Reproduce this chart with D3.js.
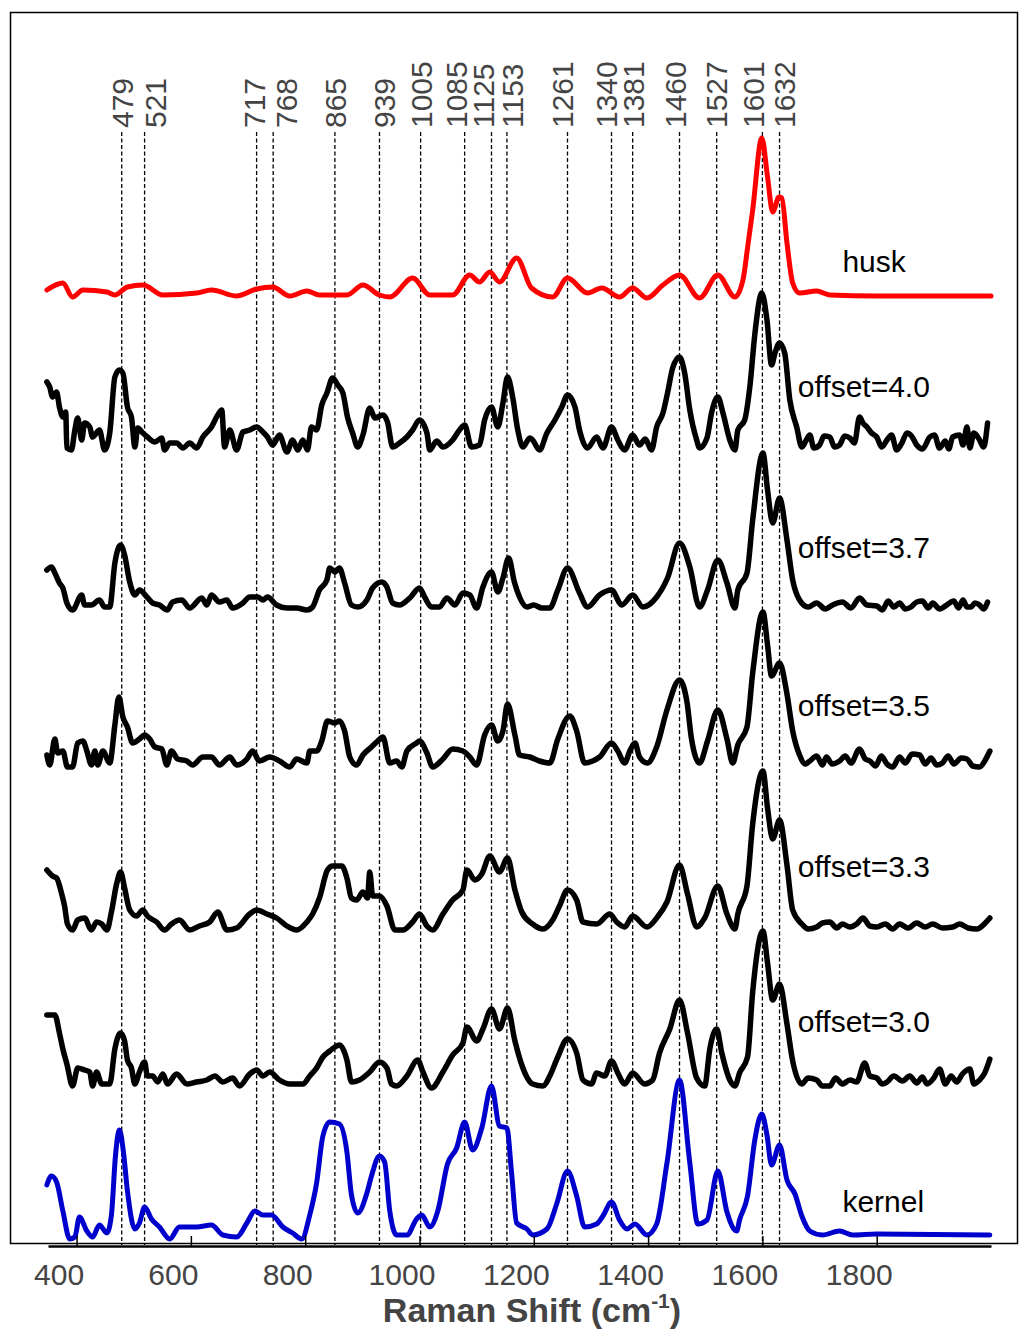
<!DOCTYPE html>
<html>
<head>
<meta charset="utf-8">
<script src="https://cdn.jsdelivr.net/npm/d3@7/dist/d3.min.js"></script>
<style>
body { margin: 0; background: #fff; }
svg text { font-family: "Liberation Sans", Arial, sans-serif; }
</style>
</head>
<body>
<div id="container"></div>
<script>
// peak labels and where their dashed lines sit on the axis (cm-1)
const peakLabels = [479, 521, 717, 768, 865, 939, 1005, 1085, 1125, 1153, 1261, 1340, 1381, 1460, 1527, 1601, 1632];
const peakLines = [479, 519, 715, 744, 852, 930, 1002, 1079, 1126, 1153, 1259, 1336, 1373, 1455, 1520, 1600, 1630];
const tickValues = [400, 600, 800, 1000, 1200, 1400, 1600, 1800];

// spectra: [wavenumber, intensity above own baseline]
const husk = [[348,6],[376,13],[393,-1],[411,6],[453,4],[467,1],[489,9],[516,11],[551,1],[610,3],[636,6],[680,0],[715,7],[743,9],[773,0],[803,5],[825,1],[873,1],[901,11],[930,1],[948,-1],[988,18],[1018,1],[1058,1],[1088,21],[1105,14],[1123,24],[1140,14],[1170,38],[1196,8],[1233,-1],[1259,18],[1294,3],[1319,8],[1350,-1],[1373,8],[1398,-2],[1426,11],[1455,21],[1490,-2],[1522,21],[1552,-1],[1566,16],[1574,48],[1583,86],[1599,158],[1609,119],[1618,84],[1629,99],[1634,98],[1643,53],[1653,13],[1665,3],[1695,5],[1718,1],[1800,0],[1900,0],[2000,0]];

const off40 = [[348,63],[353,58],[358,48],[365,53],[370,38],[376,28],[381,33],[383,-3],[391,-5],[397,15],[402,27],[409,5],[414,22],[423,18],[428,8],[440,15],[449,-5],[458,12],[467,68],[475,75],[481,72],[489,38],[496,28],[502,-2],[507,17],[516,12],[524,8],[537,3],[549,7],[554,-5],[563,2],[575,2],[586,-3],[598,2],[610,-3],[621,8],[636,18],[647,30],[654,35],[659,-2],[668,15],[680,-5],[691,13],[703,15],[715,18],[726,13],[734,8],[743,0],[755,10],[768,-7],[778,5],[787,-5],[796,5],[804,-5],[811,18],[820,15],[829,40],[838,52],[848,67],[857,60],[866,52],[874,28],[883,12],[892,-2],[901,10],[913,37],[922,27],[936,30],[944,23],[953,-2],[965,2],[978,8],[988,15],[1000,25],[1013,12],[1018,-5],[1030,4],[1041,-2],[1058,5],[1070,15],[1079,20],[1091,-2],[1105,0],[1114,25],[1126,38],[1137,18],[1146,42],[1154,68],[1163,48],[1172,15],[1181,-2],[1193,7],[1198,5],[1210,-5],[1223,12],[1237,25],[1249,38],[1259,50],[1272,38],[1280,15],[1294,-3],[1310,8],[1321,-3],[1336,18],[1347,5],[1359,-5],[1373,10],[1385,0],[1395,6],[1406,-5],[1415,18],[1426,32],[1434,52],[1443,77],[1455,88],[1464,72],[1473,35],[1485,5],[1490,-3],[1503,7],[1511,32],[1522,48],[1531,32],[1543,5],[1552,-5],[1557,15],[1569,25],[1578,58],[1587,112],[1599,152],[1608,125],[1616,80],[1622,92],[1630,102],[1639,92],[1648,45],[1660,18],[1669,-2],[1676,4],[1683,10],[1690,-3],[1700,0],[1708,9],[1718,8],[1726,-2],[1735,0],[1744,9],[1753,7],[1761,2],[1770,28],[1776,22],[1783,18],[1791,12],[1800,8],[1809,-2],[1818,5],[1826,10],[1835,-5],[1844,2],[1853,12],[1861,9],[1870,0],[1880,-4],[1893,8],[1901,10],[1910,-3],[1920,4],[1926,-4],[1933,8],[1945,10],[1951,0],[1958,18],[1963,-3],[1970,12],[1980,5],[1987,-2],[1994,22]];

const off37 = [[348,37],[356,40],[362,34],[370,24],[376,19],[383,4],[393,-3],[409,12],[414,2],[426,2],[440,7],[449,0],[458,0],[467,44],[477,62],[484,52],[493,25],[502,12],[510,17],[523,10],[533,4],[545,2],[559,-3],[568,5],[584,7],[598,-1],[619,9],[628,2],[636,12],[650,5],[663,7],[673,-1],[691,4],[703,10],[717,10],[726,7],[734,10],[750,2],[768,-1],[785,-1],[803,-3],[813,0],[825,17],[838,27],[843,39],[852,35],[860,39],[869,24],[881,2],[892,0],[908,7],[918,19],[934,25],[943,20],[953,4],[965,2],[983,9],[1000,19],[1009,10],[1021,0],[1035,0],[1048,9],[1062,2],[1076,14],[1088,12],[1100,-1],[1111,20],[1126,35],[1137,15],[1146,29],[1156,49],[1166,25],[1175,10],[1188,0],[1200,2],[1214,-1],[1228,-1],[1242,17],[1259,39],[1280,14],[1294,0],[1315,12],[1336,17],[1354,2],[1373,12],[1391,0],[1415,10],[1434,29],[1455,64],[1473,40],[1490,0],[1504,17],[1522,47],[1538,24],[1552,-1],[1557,17],[1573,34],[1583,87],[1601,154],[1609,117],[1618,84],[1630,109],[1643,67],[1653,27],[1665,7],[1680,0],[1695,4],[1710,-2],[1723,2],[1740,5],[1755,-1],[1770,9],[1783,2],[1800,1],[1810,-3],[1820,6],[1830,0],[1840,4],[1850,-2],[1860,0],[1870,5],[1880,6],[1890,-1],[1898,4],[1910,-2],[1920,1],[1935,6],[1943,-1],[1951,7],[1958,0],[1965,0],[1972,4],[1980,2],[1987,-2],[1994,5]];

const off35 = [[348,7],[353,-3],[362,23],[367,9],[376,11],[384,-5],[393,-5],[402,19],[411,21],[418,11],[426,-3],[432,11],[437,-3],[446,11],[458,-1],[467,37],[474,65],[481,45],[489,35],[498,19],[510,23],[519,27],[528,23],[537,15],[549,13],[558,-3],[566,11],[577,3],[593,1],[603,-3],[621,5],[636,5],[650,-3],[668,5],[680,-3],[698,3],[708,11],[720,1],[738,5],[755,1],[773,-5],[785,3],[803,-1],[808,11],[820,11],[829,21],[839,41],[852,39],[860,41],[869,31],[878,5],[890,-3],[901,7],[916,15],[927,21],[936,25],[948,-1],[960,1],[969,-5],[978,11],[995,19],[1000,21],[1013,9],[1023,-5],[1041,3],[1058,13],[1076,11],[1088,5],[1100,-3],[1114,27],[1126,37],[1137,21],[1146,31],[1154,58],[1167,27],[1175,7],[1193,5],[1210,1],[1228,-1],[1242,23],[1263,46],[1275,31],[1289,-1],[1303,1],[1315,5],[1336,19],[1347,11],[1359,-1],[1368,11],[1377,19],[1385,5],[1399,-1],[1415,15],[1433,52],[1455,82],[1468,60],[1476,23],[1490,-1],[1504,21],[1522,52],[1538,23],[1548,-1],[1557,17],[1573,35],[1583,89],[1601,150],[1609,117],[1616,86],[1630,99],[1643,68],[1653,31],[1665,7],[1675,-2],[1683,1],[1695,6],[1705,-3],[1712,5],[1722,-2],[1735,1],[1745,6],[1755,-1],[1770,13],[1780,3],[1788,1],[1798,-4],[1808,6],[1818,-2],[1828,-5],[1840,5],[1850,-1],[1862,8],[1875,7],[1885,-2],[1895,4],[1905,-3],[1915,-1],[1925,6],[1935,-2],[1948,4],[1958,3],[1968,-4],[1980,-5],[1990,2],[1998,11]];

const off33 = [[348,57],[358,51],[365,49],[374,33],[379,21],[384,3],[393,-3],[402,7],[414,9],[426,-3],[435,5],[444,3],[453,-3],[461,15],[470,43],[477,55],[484,39],[493,17],[505,11],[516,17],[524,11],[540,5],[554,-3],[566,3],[580,7],[598,-3],[615,1],[633,5],[647,15],[663,-3],[680,-1],[703,13],[715,17],[733,13],[750,9],[768,1],[785,-3],[803,5],[813,13],[825,29],[839,57],[848,61],[864,61],[873,49],[881,29],[890,27],[901,35],[909,29],[913,55],[918,31],[930,31],[943,21],[957,-3],[971,-3],[988,5],[1000,13],[1013,1],[1023,-3],[1041,13],[1058,27],[1076,37],[1083,57],[1097,47],[1109,53],[1123,71],[1140,55],[1154,69],[1167,37],[1179,15],[1198,3],[1216,-2],[1233,7],[1245,21],[1259,37],[1275,27],[1286,5],[1310,3],[1333,13],[1345,5],[1359,0],[1373,11],[1398,0],[1415,9],[1433,25],[1455,62],[1469,33],[1485,0],[1499,9],[1522,41],[1538,13],[1552,-2],[1557,13],[1573,41],[1583,103],[1601,156],[1609,119],[1618,88],[1630,107],[1643,62],[1653,17],[1669,3],[1680,-2],[1695,0],[1705,4],[1718,5],[1730,-1],[1740,3],[1753,0],[1765,3],[1776,9],[1788,1],[1800,0],[1815,3],[1828,-2],[1840,3],[1855,-1],[1870,4],[1885,0],[1898,3],[1915,-1],[1933,0],[1945,3],[1960,-1],[1975,-2],[1990,4],[1998,9]];

const off30 = [[348,67],[362,67],[370,49],[376,33],[383,18],[393,-4],[402,14],[414,12],[423,10],[428,-4],[435,10],[444,-2],[458,-2],[467,33],[477,49],[484,41],[489,22],[496,14],[502,-2],[510,10],[519,20],[524,6],[533,6],[542,0],[551,8],[559,-2],[575,8],[593,-2],[610,0],[628,2],[642,6],[656,0],[673,4],[685,-4],[703,8],[715,12],[726,6],[738,10],[755,2],[773,-2],[796,-2],[808,6],[820,14],[831,25],[843,31],[852,35],[860,37],[873,22],[881,0],[895,2],[913,10],[930,20],[943,14],[951,-2],[960,-4],[978,6],[997,22],[1006,10],[1021,-6],[1041,10],[1058,27],[1076,39],[1083,55],[1100,41],[1111,53],[1126,73],[1140,53],[1154,74],[1167,41],[1179,17],[1198,-2],[1216,-4],[1228,6],[1242,25],[1259,43],[1275,29],[1286,2],[1301,-2],[1310,9],[1324,6],[1336,21],[1347,9],[1359,-2],[1373,9],[1394,-2],[1408,2],[1420,29],[1438,53],[1455,82],[1469,49],[1485,4],[1499,-4],[1508,33],[1520,53],[1529,29],[1543,2],[1552,-4],[1560,9],[1574,25],[1583,90],[1601,151],[1609,119],[1618,82],[1630,98],[1643,58],[1653,21],[1669,-2],[1680,4],[1695,2],[1705,-4],[1718,-4],[1728,4],[1740,-2],[1753,2],[1765,0],[1779,19],[1788,6],[1800,4],[1810,-2],[1818,0],[1830,6],[1845,1],[1858,6],[1870,-1],[1880,5],[1888,-2],[1900,4],[1910,13],[1920,-2],[1930,6],[1940,0],[1950,8],[1963,13],[1970,-2],[1980,2],[1988,8],[1998,23]];

const kernel = [[348,51],[356,60],[365,54],[376,25],[388,-3],[397,-1],[405,19],[418,5],[428,-1],[440,11],[453,3],[461,21],[468,80],[475,106],[482,84],[489,45],[502,7],[510,13],[519,29],[531,17],[545,9],[563,-3],[580,9],[610,9],[636,11],[656,1],[680,-1],[698,13],[712,25],[726,21],[741,21],[761,9],[778,3],[794,-3],[808,21],[820,53],[831,100],[843,114],[860,112],[873,84],[881,41],[892,23],[908,43],[916,60],[930,80],[939,74],[948,25],[960,1],[978,1],[995,17],[1004,21],[1018,9],[1032,25],[1049,72],[1065,88],[1079,114],[1093,86],[1109,108],[1126,150],[1140,110],[1153,108],[1161,64],[1170,13],[1188,7],[1198,1],[1223,7],[1240,32],[1259,65],[1275,40],[1289,9],[1310,12],[1321,20],[1336,34],[1350,16],[1363,7],[1377,12],[1398,1],[1415,12],[1433,73],[1455,156],[1473,73],[1487,12],[1503,16],[1522,65],[1538,24],[1555,5],[1560,16],[1574,40],[1587,97],[1599,122],[1608,101],[1616,71],[1630,91],[1643,56],[1657,42],[1669,20],[1683,5],[1705,1],[1735,5],[1758,1],[1800,2],[1998,1]];

const names = ["husk", "offset=4.0", "offset=3.7", "offset=3.5", "offset=3.3", "offset=3.0", "kernel"];
const spectra = [husk, off40, off37, off35, off33, off30, kernel];
const shifts = [944, 795, 633, 478, 313, 158, 4];
const colors = ["#ff0000", "#000000", "#000000", "#000000", "#000000", "#000000", "#0000cc"];

const width = 1020, height = 1330;

const svg = d3.select("#container").append("svg")
    .attr("width", width)
    .attr("height", height);

const x = d3.scaleLinear().domain([350, 2000]).range([48, 991]);
const y = d3.scaleLinear().domain([0, 1000]).range([1240, 240]);

// frame
svg.append("rect")
    .attr("x", 10.5).attr("y", 12.5)
    .attr("width", 1007).attr("height", 1231)
    .attr("fill", "none").attr("stroke", "#000").attr("stroke-width", 1.5);

// dashed peak lines
svg.append("g").selectAll("line")
    .data(peakLines).enter().append("line")
    .attr("x1", d => x(d)).attr("x2", d => x(d))
    .attr("y1", 132).attr("y2", 1245)
    .attr("stroke", "#000").attr("stroke-width", 1.3)
    .attr("stroke-dasharray", "4,2.5");

// labels were spread by hand in the original, nudge them (px)
const labelNudge = [0, 11, -2, 13, 0, 5, 1, -8, -8, 5, -5, -5, 1, -4, 0, -9, 5];
svg.append("g").selectAll("text")
    .data(peakLabels).enter().append("text")
    .attr("transform", (d, i) => "translate(" + (x(peakLines[i]) + labelNudge[i]) + ",128) rotate(-90)")
    .attr("dy", "0.36em")
    .attr("font-size", 30)
    .attr("fill", "#444")
    .text(d => d);

// spectra
spectra.forEach(function(s, i) {
    let line = d3.line()
        .x(d => x(d[0]))
        .y(d => y(d[1] + shifts[i]))
        .curve(d3.curveMonotoneX);
    svg.append("path")
        .datum(s)
        .attr("d", line)
        .attr("fill", "none")
        .attr("stroke", colors[i])
        .attr("stroke-width", colors[i] == "#000000" ? 5.5 : 5)
        .attr("stroke-linejoin", "round")
        .attr("stroke-linecap", "round");
});

// series labels
const labelX = [1740, 1662, 1662, 1662, 1662, 1662, 1740];
const labelLift = [24, 48, 49, 46, 50, 50, 24];
svg.append("g").selectAll("text")
    .data(names).enter().append("text")
    .attr("x", (d, i) => x(labelX[i]))
    .attr("y", (d, i) => y(shifts[i] + labelLift[i]))
    .attr("font-size", 30)
    .attr("fill", "#000")
    .text(d => d);

// x axis
const axis = svg.append("g")
    .attr("transform", "translate(0,1246)")
    .call(d3.axisBottom(x).tickValues(tickValues).tickSize(-10).tickSizeOuter(0).tickFormat(d3.format("d")));
axis.select(".domain").attr("stroke-width", 2.5);
axis.selectAll(".tick line").attr("stroke-width", 1.5);
axis.selectAll(".tick text")
    .attr("y", 39).attr("dy", 0).attr("dx", -18)
    .attr("font-size", 30)
    .attr("font-family", "Liberation Sans, Arial, sans-serif")
    .attr("fill", "#444");

const title = svg.append("text")
    .attr("x", 532).attr("y", 1322)
    .attr("text-anchor", "middle")
    .attr("font-size", 34)
    .attr("font-weight", "bold")
    .attr("fill", "#444");
title.append("tspan").text("Raman Shift (cm");
title.append("tspan").attr("font-size", 21).attr("dy", -14).text("-1");
title.append("tspan").attr("dy", 14).text(")");
</script>
</body>
</html>
